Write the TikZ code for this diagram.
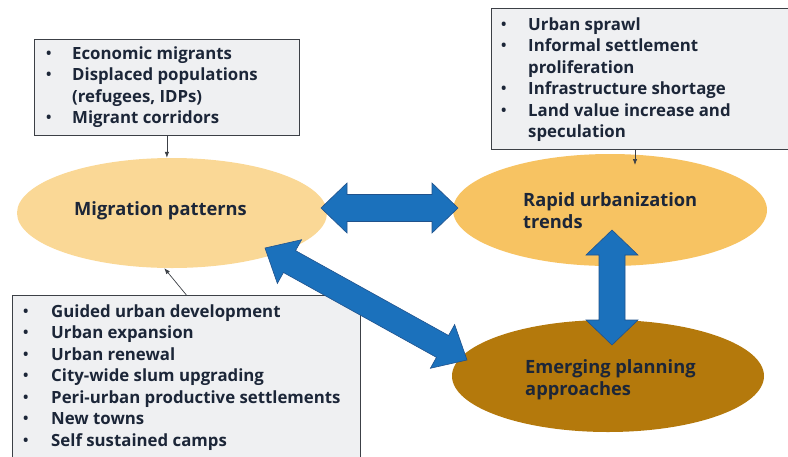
\documentclass[tikz,border=0pt]{standalone}
\usepackage{fontspec}
\setmainfont{Open Sans}
\usetikzlibrary{calc,arrows.meta,shapes.geometric}
\definecolor{boxfill}{RGB}{239,240,242}
\definecolor{boxline}{RGB}{60,64,70}
\definecolor{txt}{RGB}{28,38,56}
\definecolor{ellA}{RGB}{250,216,150}
\definecolor{ellB}{RGB}{247,195,98}
\definecolor{ellC}{RGB}{180,121,12}
\definecolor{blu}{RGB}{27,113,188}
\definecolor{bluedge}{RGB}{32,82,140}
\newcommand\bdot{\raisebox{0.8pt}{\scalebox{0.85}{\textbullet}}}
\tikzset{
  box/.style={draw=boxline, fill=boxfill, line width=0.8pt, inner sep=0pt, anchor=north west},
  ell/.style={ellipse, draw=none, inner sep=0pt},
  listtext/.style={anchor=base west, inner sep=0pt, text=txt, font=\fontsize{16.8}{21.5}\selectfont\bfseries},
  elltext/.style={anchor=base west, inner sep=0pt, text=txt, font=\fontsize{18.3}{22.5}\selectfont\bfseries},
  thinarrow/.style={draw=boxline, line width=0.7pt, -{Latex[length=6pt,width=4.5pt]}},
  blockarr/.style={fill=blu, draw=bluedge, line width=0.6pt, line join=miter}
}
% block double arrow between two named coordinates: from, to, shaft half width, head half width, head length
\newcommand\blockarrow[5]{%
  \path let \p1=($(#2)-(#1)$), \n1={atan2(\y1,\x1)}, \n2={veclen(\x1,\y1)} in
    \pgfextra{\xdef\baang{\n1}\xdef\balen{\n2}};
  \begin{scope}[shift={(#1)}, rotate=\baang, x=1pt, y=1pt]
    \filldraw[blockarr] (0,0) -- (#5,#4) -- (#5,#3) -- ({\balen-#5},#3) -- ({\balen-#5},#4)
      -- (\balen,0) -- ({\balen-#5},-#4) -- ({\balen-#5},-#3) -- (#5,-#3) -- (#5,-#4) -- cycle;
  \end{scope}}
\begin{document}
\begin{tikzpicture}[x=1pt, y=-1pt]
\useasboundingbox (0,0) rectangle (788,456);

% ellipses
\node[ell, fill=ellA, minimum width=310pt, minimum height=110pt] (mig) at (172,213) {};
\node[ell, fill=ellB, minimum width=314pt, minimum height=112pt] (urb) at (610,210) {};
\node[ell, fill=ellC, minimum width=312pt, minimum height=112pt] (emg) at (608,376) {};

\node[elltext] (migt) at (74,215) {Migration patterns};
\node[elltext] (urbt) at (523,206) {\begin{tabular}[t]{@{}l@{}}Rapid urbanization\\ trends\end{tabular}};
\node[elltext] (emgt) at (525,373) {\begin{tabular}[t]{@{}l@{}}Emerging planning\\ approaches\end{tabular}};

% boxes
\node[box, minimum width=265pt, minimum height=96pt] (b1) at (34,39) {};
\node[box, minimum width=302pt, minimum height=141pt] (b2) at (491,8) {};
\node[box, minimum width=348pt, minimum height=175pt] (b3) at (12,295) {};

\node[listtext] (t1) at (46,59) {\begin{tabular}[t]{@{}p{26pt}@{}l@{}}
\bdot & Economic migrants\\
\bdot & Displaced populations\\
 & (refugees, IDPs)\\
\bdot & Migrant corridors
\end{tabular}};

\node[listtext] (t2) at (501,30) {\begin{tabular}[t]{@{}p{27pt}@{}l@{}}
\bdot & Urban sprawl\\
\bdot & Informal settlement\\
 & proliferation\\
\bdot & Infrastructure shortage\\
\bdot & Land value increase and\\
 & speculation
\end{tabular}};

\node[listtext] (t3) at (23,317) {\begin{tabular}[t]{@{}p{28pt}@{}l@{}}
\bdot & Guided urban development\\
\bdot & Urban expansion\\
\bdot & Urban renewal\\
\bdot & City-wide slum upgrading\\
\bdot & Peri-urban productive settlements\\
\bdot & New towns\\
\bdot & Self sustained camps
\end{tabular}};

% thin connectors
\coordinate (b2out) at (635,149);
\coordinate (urbin) at (635,165);
\draw[thinarrow] (b1.south) -- (b1.south |- mig.north);
\draw[thinarrow] (b2out) -- (urbin);
\draw[thinarrow] (b3.north) -- (mig.262);

% block arrows
\coordinate (hA) at (321,208);
\coordinate (hB) at (458,208);
\coordinate (vA) at (612,230);
\coordinate (vB) at (612,345);
\coordinate (dA) at (265,248);
\coordinate (dB) at (467,360);
\blockarrow{hA}{hB}{13.5}{25}{26}
\blockarrow{vA}{vB}{13}{26}{25}
\blockarrow{dA}{dB}{12.5}{25}{28}
\end{tikzpicture}
\end{document}
